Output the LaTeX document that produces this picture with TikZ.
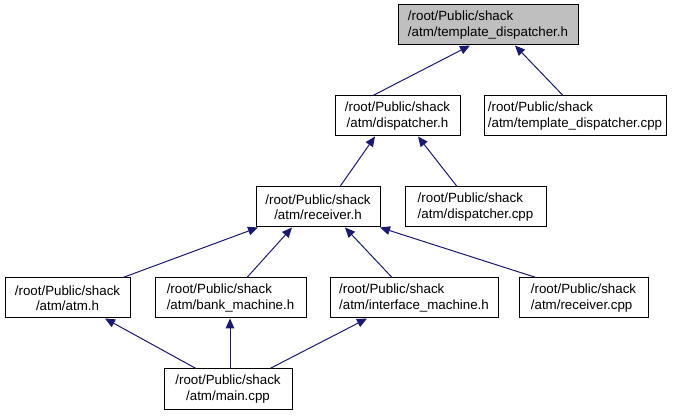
\documentclass[tikz,border=0pt]{standalone}
\usepackage{fontspec}
\setmainfont{Liberation Sans}
\usetikzlibrary{arrows.meta}
\definecolor{edgeblue}{HTML}{191970}
\definecolor{hdrgray}{HTML}{BFBFBF}
\tikzset{
  filebox/.style={draw=black, line width=0.75pt, fill=white, minimum height=30pt, inner sep=0pt,
    font=\fontsize{10}{11.5}\selectfont},
  cbox/.style={filebox, align=center},
  lbox/.style={filebox, align=left},
  dep/.style={draw=edgeblue, line width=0.75pt, -{Triangle[length=7.5pt,width=6.5pt]}, color=edgeblue}
}
\begin{document}
\begin{tikzpicture}[x=0.75pt,y=-0.75pt]
\useasboundingbox (0,0) rectangle (685,416);
\node[lbox, fill=hdrgray, minimum width=135pt] (tdh) at (488,25) {/root/Public/shack\\/atm/template\_dispatcher.h};
\node[cbox, minimum width=93.75pt] (dh) at (397.5,116) {/root/Public/shack\\/atm/dispatcher.h};
\node[lbox, minimum width=136.5pt] (tdcpp) at (575,116) {/root/Public/shack\\/atm/template\_dispatcher.cpp};
\node[cbox, minimum width=93pt] (rh) at (318,207) {/root/Public/shack\\/atm/receiver.h};
\node[lbox, minimum width=105.75pt] (dcpp) at (475.5,207) {/root/Public/shack\\/atm/dispatcher.cpp};
\node[cbox, minimum width=93.75pt] (atm) at (67.5,298) {/root/Public/shack\\/atm/atm.h};
\node[lbox, minimum width=113.25pt] (bm) at (230.5,298) {/root/Public/shack\\/atm/bank\_machine.h};
\node[lbox, minimum width=126pt] (im) at (414,298) {/root/Public/shack\\/atm/interface\_machine.h};
\node[lbox, minimum width=96.75pt] (rcpp) at (583.5,298) {/root/Public/shack\\/atm/receiver.cpp};
\node[cbox, minimum width=96pt] (main) at (228,389) {/root/Public/shack\\/atm/main.cpp};

\draw[dep] (373,0 |- dh.north) -- (470,0 |- tdh.south);
\draw[dep] (563,0 |- tdcpp.north) -- (515,0 |- tdh.south);
\draw[dep] (340,0 |- rh.north) -- (375,0 |- dh.south);
\draw[dep] (457,0 |- dcpp.north) -- (418,0 |- dh.south);
\draw[dep] (123,0 |- atm.north) -- (258,0 |- rh.south);
\draw[dep] (247,0 |- bm.north) -- (292,0 |- rh.south);
\draw[dep] (392,0 |- im.north) -- (345,0 |- rh.south);
\draw[dep] (536,0 |- rcpp.north) -- (380,0 |- rh.south);
\draw[dep] (196,0 |- main.north) -- (105,0 |- atm.south);
\draw[dep] (230,0 |- main.north) -- (230,0 |- bm.south);
\draw[dep] (270,0 |- main.north) -- (367,0 |- im.south);
\end{tikzpicture}
\end{document}
